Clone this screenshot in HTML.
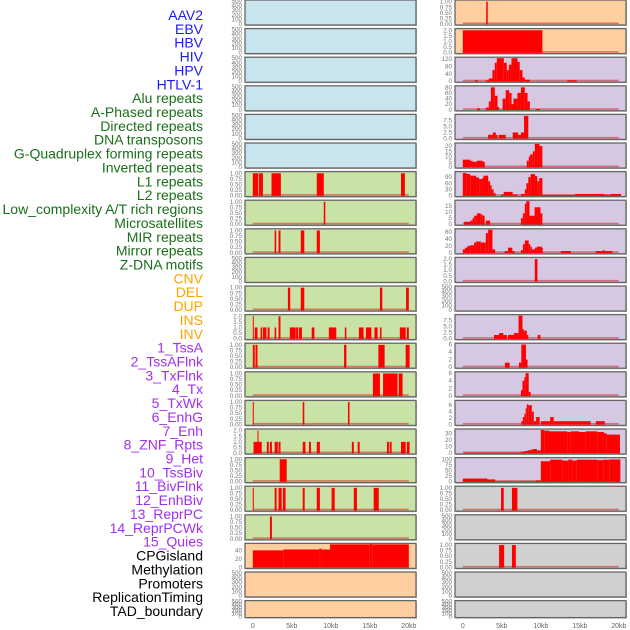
<!DOCTYPE html>
<html><head><meta charset="utf-8">
<style>
html,body{margin:0;padding:0;background:#fff;}
svg{display:block;font-family:"Liberation Sans",sans-serif;}
</style></head>
<body>
<svg id="chart" width="630" height="630" viewBox="0 0 630 630" xmlns="http://www.w3.org/2000/svg"></svg>
<script>
// ---- labels ----
const trackLabels = ["AAV2","EBV","HBV","HIV","HPV","HTLV-1","Alu repeats","A-Phased repeats","Directed repeats","DNA transposons","G-Quadruplex forming repeats","Inverted repeats","L1 repeats","L2 repeats","Low_complexity A/T rich regions","Microsatellites","MIR repeats","Mirror repeats","Z-DNA motifs","CNV","DEL","DUP","INS","INV","1_TssA","2_TssAFlnk","3_TxFlnk","4_Tx","5_TxWk","6_EnhG","7_Enh","8_ZNF_Rpts","9_Het","10_TssBiv","11_BivFlnk","12_EnhBiv","13_ReprPC","14_ReprPCWk","15_Quies","CPGisland","Methylation","Promoters","ReplicationTiming","TAD_boundary"];
const labelGroups = [6,13,5,15,5];
const xTickValues = [0,5,10,15,20];
const xTickLabels = ["0","5kb","10kb","15kb","20kb"];

// ---- tick sets ----
const tk500 = ["0","100","200","300","400","500"];
const tkU1 = ["0.00","0.25","0.50","0.75","1.00"];
const tkU2 = ["0.0","0.5","1.0","1.5","2.0"];

// ---- left column data [startKb, endKb, value] ----
const leftR7 = [[0,0.7,1],[0.8,1.3,1],[2.4,3.6,1],[8.2,9.1,1],[19.0,19.5,1]];
const leftR8 = [[9.1,9.3,1]];
const leftR9 = [[2.8,3.0,1],[3.3,3.55,1],[6.15,6.6,1],[8.2,8.6,1]];
const leftR11 = [[4.5,4.8,1],[6.15,6.6,1],[16.3,16.6,1],[19.65,20.0,1]];
const leftR12 = [[0,0.1,2],[0.25,0.6,1],[1.0,1.2,1],[1.3,1.75,1],[1.9,2.15,1],[2.8,3.0,1],[3.3,3.55,2],[4.75,5.5,1],[5.55,5.8,1],[5.9,6.3,1],[7.55,7.9,1],[9.75,10.7,1],[11.8,12.0,1],[13.6,14.2,1],[14.5,15.2,1],[15.6,16.0,1],[16.3,16.5,1],[18.85,19.6,1],[19.75,20,1]];
const leftR13 = [[0,0.25,1],[0.35,0.6,1],[11.7,12.0,1],[16.1,16.9,1],[19.6,20.1,1]];
const leftR14 = [[15.4,16.3,1],[16.7,18.55,1],[18.7,19.2,1]];
const leftR15 = [[0,0.1,1],[6.4,6.6,1],[12.2,12.4,1]];
const leftR16 = [[0.1,1.15,1],[0.6,0.7,2],[1.8,2.05,1],[2.2,2.45,1],[2.8,3.2,1],[3.3,3.55,1],[6.4,6.75,1],[7.2,7.45,1],[8.2,8.6,1],[12.7,12.95,1],[13.45,13.7,1],[17.2,17.45,1],[17.55,17.8,1],[19.0,19.6,1],[19.75,20.1,1]];
const leftR17 = [[3.45,4.35,1]];
const leftR18 = [[0,0.1,1],[2.8,3.05,1],[3.3,3.7,1],[3.85,4.2,1],[6.4,6.65,1],[8.2,8.6,1],[10.1,10.5,1],[12.95,13.35,1],[15.5,16.15,1]];
const leftR19 = [[2.2,2.45,1]];
const leftR20 = [[0,3.9,40],[3.9,8.5,42],[8.5,8.8,44],[8.8,9.9,42],[9.9,15,54],[15,15.3,55],[15.3,20,54]];

// ---- right column data ----
const rightR1 = [[3.0,3.2,1]];
const rightR2 = [[0,10.2,2]];
const rightR3 = [[1.54,1.92,5],[2.95,3.33,5],[3.33,3.8,15],[3.8,4.1,60],[4.1,4.36,100],[4.36,5.26,125],[5.26,5.64,100],[5.64,5.9,60],[5.9,6.24,90],[6.24,7.01,125],[7.01,7.3,105],[7.3,7.65,60],[7.65,7.95,20],[7.95,8.6,8],[13.4,14.6,5]];
const rightR4 = [[1.8,2.2,5],[2.95,3.33,8],[3.33,3.6,30],[3.6,4.1,80],[4.1,4.45,50],[4.45,4.65,10],[5.1,5.5,40],[5.5,5.95,70],[5.95,6.25,60],[6.25,6.5,20],[6.5,7.0,40],[7.0,7.45,60],[7.45,7.95,80],[7.95,8.3,60],[8.3,8.6,30],[9.35,9.9,3]];
const rightR5 = [[3.24,3.85,1.5],[3.85,4.23,2.5],[4.23,4.45,1.5],[4.6,5.5,1.5],[6.4,7.1,2.5],[7.1,7.45,1.5],[7.45,7.85,2.5],[7.85,8.4,9.5]];
const rightR6 = [[0,0.94,7],[0.94,1.24,6],[1.24,1.8,5],[1.8,2.53,6],[2.53,2.82,5],[8.2,8.46,6],[8.46,8.63,10],[8.63,8.97,12],[8.97,9.23,15],[9.23,9.83,22],[9.83,10.2,20]];
const rightR7 = [[0,0.5,110],[0.5,0.95,105],[0.95,1.7,97],[1.7,2.1,88],[2.1,2.45,80],[2.45,2.65,85],[2.65,3.25,97],[3.25,3.5,70],[3.5,3.7,50],[3.7,3.95,30],[3.95,4.2,12],[4.9,5.25,5],[5.25,6.4,18],[6.4,7.05,5],[7.45,7.95,8],[7.95,8.15,30],[8.15,8.4,60],[8.4,8.7,90],[8.7,9.25,105],[9.25,9.55,95],[9.55,9.8,70],[9.8,10.2,85],[10.2,14.4,3],[14.4,18.1,8],[18.1,19.0,4],[19.0,20.3,8]];
const rightR8 = [[0.15,0.95,2],[0.95,1.25,3],[1.25,1.45,5],[1.45,1.8,7],[1.8,2.3,9],[2.3,2.55,8],[2.55,2.8,7],[2.95,3.5,3],[7.45,7.7,5],[7.7,7.95,9],[7.95,8.15,17],[8.15,8.55,19],[8.55,8.75,7],[8.75,9.2,7],[9.2,9.95,14],[9.95,10.2,9]];
const rightR9 = [[0,0.3,10],[0.3,0.6,15],[0.6,0.95,20],[0.95,1.45,22],[1.45,1.7,30],[1.7,2.3,33],[2.3,2.95,30],[2.95,3.25,57],[3.25,3.8,67],[3.8,4.15,10],[5.35,5.8,5],[5.8,6.35,15],[6.35,6.65,5],[7.45,7.7,8],[7.7,7.95,25],[7.95,8.45,36],[8.45,8.65,25],[8.65,8.85,18],[8.85,9.25,10],[9.25,9.5,15],[9.5,10.1,18],[10.1,10.25,15],[12.55,13.85,5],[17.05,17.9,5],[17.9,18.2,7],[18.2,19.2,5]];
const rightR10 = [[9.23,9.57,2]];
const rightR12 = [[4.0,4.65,1.5],[4.65,5.2,2.3],[5.2,5.65,1.5],[5.8,6.55,1.5],[6.55,7.15,2.3],[7.15,7.65,9.5],[7.65,7.8,4],[7.8,8.2,3.3],[8.2,8.4,1.5],[9.6,9.95,1.5]];
const rightR13 = [[5.4,6.0,1.2],[7.2,7.5,1.2],[7.5,8.1,6],[8.1,8.3,2]];
const rightR14 = [[7.45,7.65,1.5],[7.65,7.9,4],[7.9,8.05,5],[8.05,8.45,6],[8.45,8.7,1]];
const rightR15 = [[7.5,7.7,1],[7.7,7.9,2.3],[7.9,8.05,3.3],[8.05,8.2,5],[8.2,8.4,6.3],[8.4,8.85,6],[8.85,9.1,4],[9.1,9.4,1],[9.4,9.85,2.3],[10.0,11.2,1],[11.2,11.65,2.3],[11.65,16.4,1],[17.05,18.2,1]];
const rightR16 = [[0.1,7.45,0.5],[7.45,7.9,2],[7.9,8.3,3],[8.3,8.65,4],[8.65,8.95,5],[8.95,9.5,6],[9.5,10.0,4],[10.0,10.45,35],[10.45,11.05,34],[11.05,13.4,33],[13.4,13.85,32],[13.85,14.9,33],[14.9,15.75,32],[15.75,17.25,33],[17.25,18.1,32],[18.1,18.45,30],[18.45,20.15,28]];
const rightR17 = [[0,3.15,14],[3.15,4.15,10],[4.15,9.35,1],[9.35,10.0,5],[10.0,11.2,93],[11.2,12.8,100],[12.8,13.5,96],[13.5,14.05,100],[14.05,14.6,96],[14.6,17.25,100],[17.25,18.0,98],[18.0,18.85,100],[18.85,20.2,101]];
const rightR18 = [[4.9,5.25,1],[6.3,7.0,1]];
const rightR20 = [[4.65,5.3,1],[6.3,6.8,1]];

// ---- panel definitions: [name, data, max, ticks, fill] ----
const BLUE="#c8e4ec", GREEN="#c9e2a6", ORANGE="#ffcf9f", PURPLE="#d6c7e2", GRAY="#d0d0d0";
const leftPanels = [
 ["AAV2-left",null,500,tk500,BLUE],["EBV-left",null,500,tk500,BLUE],["HBV-left",null,500,tk500,BLUE],
 ["HIV-left",null,500,tk500,BLUE],["HPV-left",null,500,tk500,BLUE],["HTLV-left",null,500,tk500,BLUE],
 ["row7-left",leftR7,1.03,tkU1,GREEN],["row8-left",leftR8,1.03,tkU1,GREEN],["row9-left",leftR9,1.03,tkU1,GREEN],
 ["row10-left",null,500,tk500,GREEN],["row11-left",leftR11,1.03,tkU1,GREEN],["row12-left",leftR12,2.06,tkU2,GREEN],
 ["row13-left",leftR13,1.03,tkU1,GREEN],["row14-left",leftR14,1.03,tkU1,GREEN],["row15-left",leftR15,1.03,tkU1,GREEN],
 ["row16-left",leftR16,2.06,tkU2,GREEN],["row17-left",leftR17,1.03,tkU1,GREEN],["row18-left",leftR18,1.03,tkU1,GREEN],
 ["row19-left",leftR19,1.03,tkU1,GREEN],["cpg-left",leftR20,54,["0","20","40"],ORANGE],
 ["row21-left",null,500,tk500,ORANGE],["tad-left",null,500,tk500,ORANGE]
];
const rightPanels = [
 ["row1-right",rightR1,1.03,tkU1,ORANGE],["row2-right",rightR2,2.06,tkU2,ORANGE],
 ["row3-right",rightR3,125,["0","40","80","120"],PURPLE],["row4-right",rightR4,82,["0","20","40","60","80"],PURPLE],
 ["row5-right",rightR5,9.7,["0.0","2.5","5.0","7.5"],PURPLE],["row6-right",rightR6,22,["0","5","10","15","20"],PURPLE],
 ["row7-right",rightR7,112,["0","30","60","90"],PURPLE],["row8-right",rightR8,19,["0","5","10","15"],PURPLE],
 ["row9-right",rightR9,67,["0","20","40","60"],PURPLE],["row10-right",rightR10,2.06,tkU2,PURPLE],
 ["row11-right",null,500,tk500,PURPLE],["row12-right",rightR12,9.5,["0.0","2.5","5.0","7.5"],PURPLE],
 ["row13-right",rightR13,6.1,["0","2","4","6"],PURPLE],["row14-right",rightR14,6.1,["0","2","4","6"],PURPLE],
 ["row15-right",rightR15,7.2,["0","2","4","6"],PURPLE],["row16-right",rightR16,35,["0","10","20","30"],PURPLE],
 ["row17-right",rightR17,105,["0","25","50","75","100"],PURPLE],["row18-right",rightR18,1.03,tkU1,GRAY],
 ["row19-right",null,500,tk500,GRAY],["row20-right",rightR20,1.03,tkU1,GRAY],
 ["row21-right",null,500,tk500,GRAY],["tad-right",null,500,tk500,GRAY]
];

const NS="http://www.w3.org/2000/svg";
const svg=document.getElementById("chart");
function mk(tag,attrs,parent){const e=document.createElementNS(NS,tag);for(const k in attrs)e.setAttribute(k,attrs[k]);(parent||svg).appendChild(e);return e;}

// labels
const groupColors=["#1b1bf5","#1a6e1a","#ffa200","#a030ee","#000000"];
let gi=0,gc=0;
trackLabels.forEach((t,i)=>{
  const y=15+i*13.86;
  const el=mk("text",{x:203,y:y+5,"text-anchor":"end","font-size":"14",fill:groupColors[gi]});
  el.textContent=t;
  
  
  gc++; if(gc>=labelGroups[gi]&&gi<labelGroups.length-1){gi++;gc=0;}
});

function xScale(x0,kb){return x0+7.8+kb*7.8;}
function drawPanel(p,col,row){
  const [name,data,max,ticks,fill]=p;
  const x0=col===0?245:455, w=171;
  const top=row*28.6, h=(row===21)?17:25;
  const g=mk("g",{});
  
  
  mk("rect",{x:x0+1,y:top+1,width:w,height:h,fill:"#bbb"},g);
  const bg=mk("rect",{x:x0,y:top,width:w,height:h,fill:fill,stroke:"#666","stroke-width":"1.3"},g);
  
  
  const yS=v=>top+h-1-(v/max)*(h-2);
  const tmax=parseFloat(ticks[ticks.length-1]);
  const tScale=(max===500)?500:max;
  ticks.forEach(tl=>{
    const v=parseFloat(tl);
    const t=mk("text",{x:x0-3,y:yS(v*(max===500?1:1))+2,"text-anchor":"end","font-size":"6.3",fill:"#777"},g);
    t.textContent=tl;
    
    
  });
  if(data){
    const bl=mk("rect",{x:xScale(x0,0),y:top+h-2.5,width:20*7.8,height:1.6,fill:"#c00","fill-opacity":"0.45"},g);
    
    
    data.forEach(d=>{
      const xa=xScale(x0,d[0]), xb=Math.min(xScale(x0,d[1]),x0+w-0.5);
      const yy=Math.max(yS(d[2]),top+0.7);
      const r=mk("rect",{x:xa,y:yy,width:Math.max(xb-xa,1),height:top+h-0.7-yy,fill:"#ff0000"},g);
      
      
    });
  }
}
leftPanels.forEach((p,i)=>drawPanel(p,0,i));
rightPanels.forEach((p,i)=>drawPanel(p,1,i));

// x axes
[245,455].forEach((x0,ci)=>{
  xTickValues.forEach((v,i)=>{
    const t=mk("text",{x:xScale(x0,v),y:628,"text-anchor":"middle","font-size":"7",fill:"#666"});
    t.textContent=xTickLabels[i];
    
    
  });
});
</script>
</body></html>
